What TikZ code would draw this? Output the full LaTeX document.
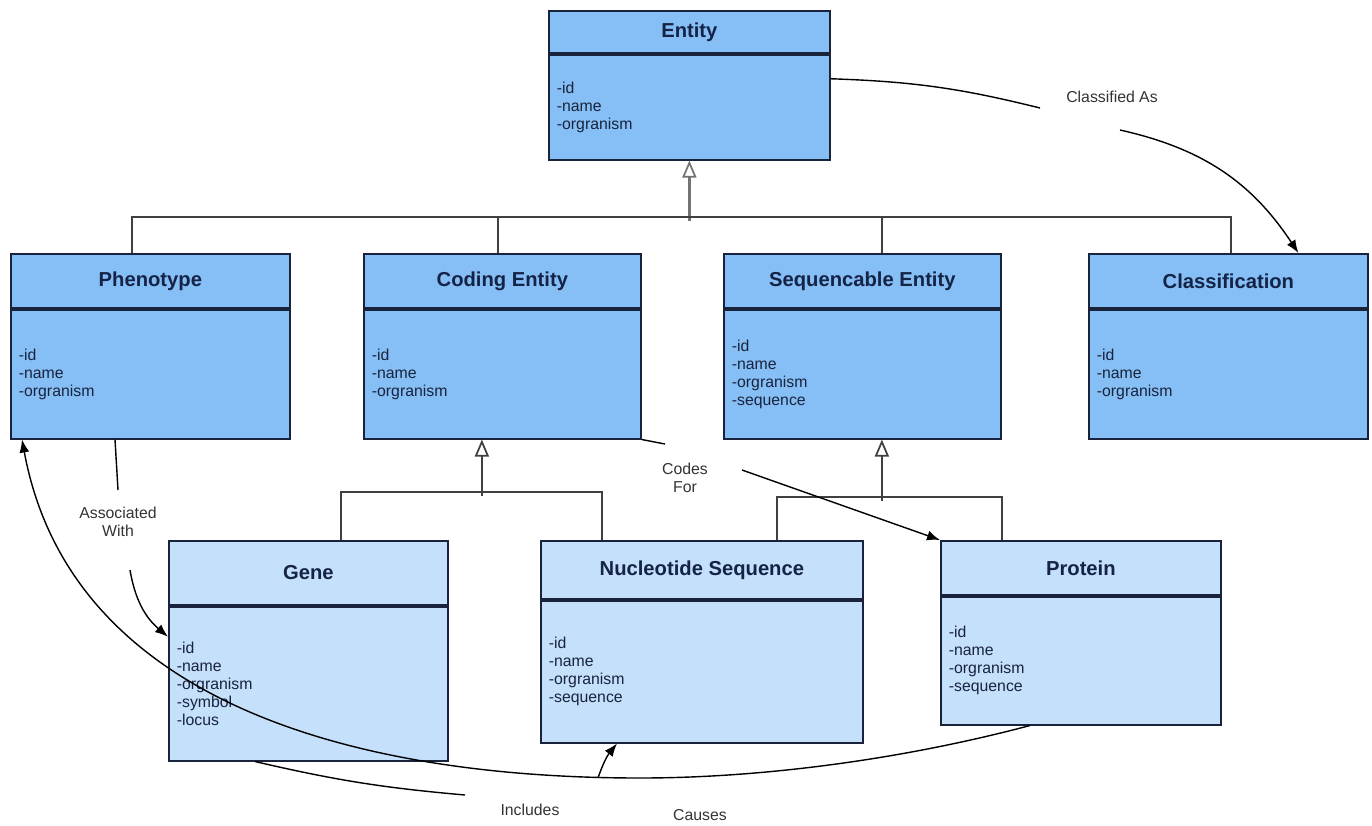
\documentclass[tikz,border=0pt]{standalone}
\usepackage{fontspec}
\setmainfont{Liberation Sans}
\usetikzlibrary{positioning,arrows.meta}

\definecolor{topblue}{RGB}{134,191,246}
\definecolor{lowblue}{RGB}{196,224,250}
\definecolor{boxline}{RGB}{25,35,60}
\definecolor{titletext}{RGB}{20,35,70}

\tikzstyle{classtitle}=[draw=boxline,line width=1pt,fill=topblue,inner sep=0pt,anchor=north west,font=\fontsize{11.5}{13}\selectfont\bfseries,text=titletext]
\tikzstyle{classattrs}=[draw=boxline,line width=1pt,fill=topblue,inner xsep=0.16cm,inner ysep=0pt,align=left,font=\fontsize{9}{10.2}\selectfont,text=boxline]
\tikzstyle{subtitle}=[classtitle,fill=lowblue]
\tikzstyle{subattrs}=[classattrs,fill=lowblue]
\tikzstyle{inheritarc}=[-{Triangle[open,fill=white,length=0.34cm,width=0.28cm]},line width=1pt,draw=black!75]
\tikzstyle{stemarc}=[-{Triangle[open,fill=white,line width=1pt,length=0.34cm,width=0.28cm]},line width=2pt,draw=black!55]
\tikzstyle{inheritline}=[line width=1pt,draw=black!75]
\tikzstyle{assocarc}=[-{Latex[length=0.26cm,width=0.2cm]},line width=0.8pt]
\tikzstyle{assocline}=[line width=0.8pt]
\tikzstyle{assoclabel}=[font=\fontsize{9}{10.2}\selectfont,text=black!80,align=center]

\begin{document}
\begin{tikzpicture}
\useasboundingbox (0,0) rectangle (27.44,-16.5);

% top level
\node[classtitle,minimum width=5.62cm,minimum height=0.84cm] (entityh) at (10.96,-0.2) {Entity};
\node[classattrs,text width=5.30cm,minimum height=2.1cm,below=0pt of entityh] (entity) {-id\\-name\\-orgranism};

% second level
\node[classtitle,minimum width=5.58cm,minimum height=1.08cm] (phenoh) at (0.2,-5.06) {Phenotype};
\node[classattrs,text width=5.26cm,minimum height=2.58cm,below=0pt of phenoh] (pheno) {-id\\-name\\-orgranism};

\node[classtitle,minimum width=5.54cm,minimum height=1.08cm] (codingh) at (7.26,-5.06) {Coding Entity};
\node[classattrs,text width=5.22cm,minimum height=2.58cm,below=0pt of codingh] (coding) {-id\\-name\\-orgranism};

\node[classtitle,minimum width=5.54cm,minimum height=1.08cm] (seqh) at (14.46,-5.06) {Sequencable Entity};
\node[classattrs,text width=5.22cm,minimum height=2.58cm,below=0pt of seqh] (seq) {-id\\-name\\-orgranism\\-sequence};

\node[classtitle,minimum width=5.58cm,minimum height=1.08cm] (classh) at (21.76,-5.06) {Classification};
\node[classattrs,text width=5.26cm,minimum height=2.58cm,below=0pt of classh] (class) {-id\\-name\\-orgranism};

% third level
\node[subtitle,minimum width=5.58cm,minimum height=1.28cm] (geneh) at (3.36,-10.8) {Gene};
\node[subattrs,text width=5.26cm,minimum height=3.08cm,below=0pt of geneh] (gene) {-id\\-name\\-orgranism\\-symbol\\-locus};

\node[subtitle,minimum width=6.44cm,minimum height=1.16cm] (nuclh) at (10.8,-10.8) {Nucleotide Sequence};
\node[subattrs,text width=6.12cm,minimum height=2.84cm,below=0pt of nuclh] (nucl) {-id\\-name\\-orgranism\\-sequence};

\node[subtitle,minimum width=5.6cm,minimum height=1.08cm] (proth) at (18.8,-10.8) {Protein};
\node[subattrs,text width=5.28cm,minimum height=2.56cm,below=0pt of proth] (prot) {-id\\-name\\-orgranism\\-sequence};

% generalization
\path (entity.south) ++(0,-1.2) coordinate (topbus);
\draw[stemarc] (topbus) -- (entity.south);
\draw[inheritline] ([xshift=-0.37cm]phenoh.north) -- ++(0,0.72) -| ([xshift=0.05cm]classh.north);
\draw[inheritline] ([xshift=-0.09cm]codingh.north) -- ++(0,0.72);
\draw[inheritline] ([xshift=0.39cm]seqh.north) -- ++(0,0.72);

\path ([xshift=-0.41cm]coding.south) ++(0,-1.12) coordinate (codbus);
\draw[inheritarc] (codbus) -- ([xshift=-0.41cm]coding.south);
\draw[inheritline] ([xshift=0.65cm]geneh.north) -- ++(0,0.96) -| ([xshift=-2.0cm]nuclh.north);

\path ([xshift=0.39cm]seq.south) ++(0,-1.22) coordinate (seqbus);
\draw[inheritarc] (seqbus) -- ([xshift=0.39cm]seq.south);
\draw[inheritline] ([xshift=1.5cm]nuclh.north) -- ++(0,0.86) -| ([xshift=-1.58cm]proth.north);

% associations
\node[assoclabel] (clslbl) at (22.24,-1.94) {Classified As};
\coordinate (clsin) at (20.8,-2.16);
\coordinate (clsout) at (22.4,-2.6);
\draw[assocline] ([yshift=-0.5cm]entity.north east) to[bend left=6] (clsin);
\draw[assocarc] (clsout) to[bend left=22] ([xshift=1.4cm]classh.north);

\node[assoclabel] (asslbl) at (2.36,-10.44) {Associated\\With};
\coordinate (assin) at (2.36,-9.8);
\coordinate (assout) at (2.6,-11.4);
\draw[assocline] ([xshift=2.1cm]pheno.south west) -- (assin);
\draw[assocarc] (assout) to[bend right=20] ([yshift=-0.62cm]gene.north west);

\node[assoclabel] (codlbl) at (13.7,-9.56) {Codes\\For};
\coordinate (codin) at (13.3,-8.88);
\coordinate (codout) at (14.84,-9.4);
\draw[assocline] (coding.south east) -- (codin);
\draw[assocarc] (codout) -- (proth.north west);

\node[assoclabel] (inclbl) at (10.6,-16.2) {Includes};
\coordinate (incin) at (9.3,-15.9);
\coordinate (incout) at (11.96,-15.56);
\draw[assocline] ([xshift=1.74cm]gene.south west) to[bend right=4] (incin);
\draw[assocarc] (incout) to[bend left=10] ([xshift=1.54cm]nucl.south west);

\node[assoclabel] (caulbl) at (14.0,-16.3) {Causes};
\draw[assocarc] ([xshift=1.8cm]prot.south west) .. controls (18.0,-15.2) and (15.2,-15.56) .. (12.8,-15.56) .. controls (7.0,-15.56) and (1.4,-14.0) .. ([xshift=0.24cm]pheno.south west);

\end{tikzpicture}
\end{document}
